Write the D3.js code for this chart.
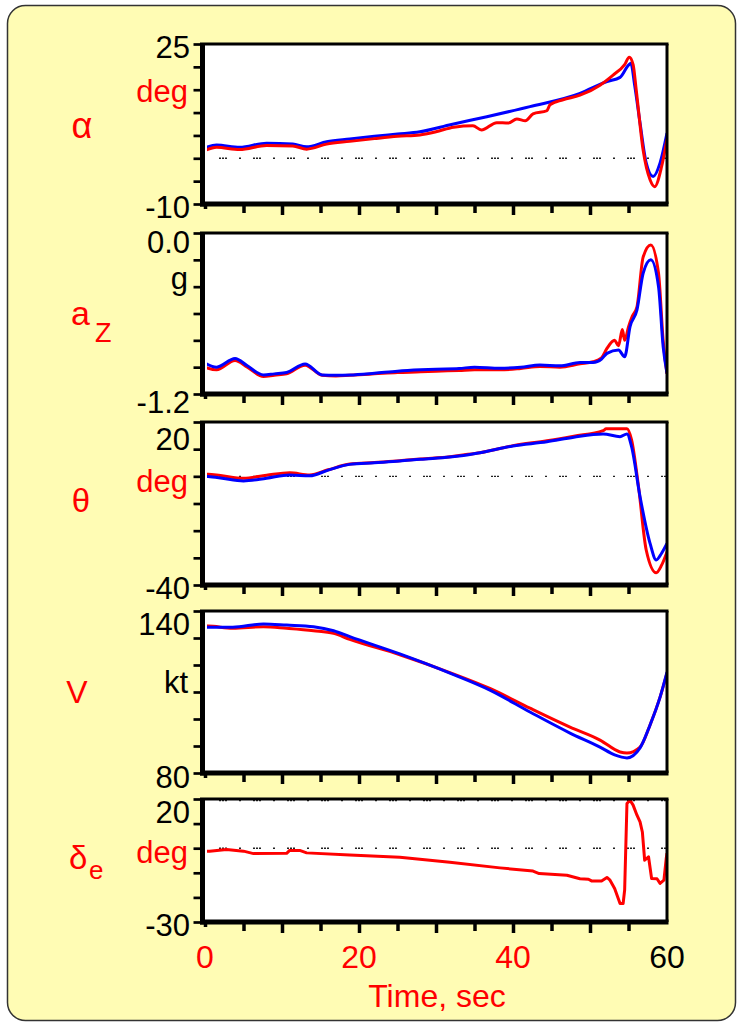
<!DOCTYPE html>
<html>
<head>
<meta charset="utf-8">
<script src="https://cdn.jsdelivr.net/npm/d3@7"></script>
<style>
  body { margin: 0; background: #ffffff; }
  svg { display: block; }
  text { font-family: "Liberation Sans", Arial, Helvetica, sans-serif; }
</style>
</head>
<body>
<svg id="chart" width="738" height="1023"></svg>
<script>
// ---- time-history data (t in seconds) ----
// angle of attack, deg
const alphaSimT = [0, 1.5, 4.5, 8, 11.4, 13.2, 15.8, 18.8, 22, 25, 27.9, 32, 36.6, 42.2, 48.7, 52.2, 53.9, 55, 55.3, 55.8, 56.5, 57.3, 58.2, 59.1, 60];
const alphaSim  = [2.3, 2.9, 2.4, 3.3, 3.1, 2.5, 3.6, 4.2, 4.8, 5.3, 5.8, 7.4, 9.1, 11.3, 14.2, 16.8, 17.7, 20.4, 20.8, 16.0, 7.7, -1.0, -4.0, -1.0, 5.5];
const alphaFltT = [0, 1.5, 4.5, 8, 11.4, 13.2, 15.8, 18.8, 22, 25, 27.9, 30, 32.3, 34.8, 35.9, 37.9, 39.4, 40.5, 41.6, 42.6, 44.4, 44.8, 46.5, 48.7, 51.3, 53, 54.5, 55.1, 55.6, 56, 56.9, 57.8, 58.4, 59.3, 60];
const alphaFlt  = [1.7, 2.4, 1.9, 2.8, 2.7, 2.0, 3.1, 3.7, 4.3, 4.8, 5.1, 5.8, 6.8, 7.1, 6.2, 7.8, 7.7, 8.6, 8.2, 9.7, 10.4, 11.7, 12.8, 13.8, 16.0, 18.2, 20.5, 22.1, 20.5, 15.0, 1.8, -4.7, -6.2, -1.8, 4.2];

// normal acceleration, g
const azSimT = [0, 1.5, 3.9, 5.5, 7.6, 9, 10.6, 13, 15.2, 17, 18.8, 22, 25, 28, 30, 33, 35, 38.3, 41, 43.5, 46.1, 48.7, 50.4, 51.5, 52.2, 53.7, 54.5, 55.2, 56.1, 56.9, 57.9, 58.9, 59.5, 60];
const azSim  = [-0.97, -1.0, -0.935, -0.99, -1.058, -1.05, -1.04, -0.976, -1.058, -1.06, -1.058, -1.045, -1.03, -1.02, -1.015, -1.01, -1.0, -1.008, -1.0, -0.984, -0.99, -0.966, -0.966, -0.94, -0.897, -0.872, -0.922, -0.698, -0.574, -0.30, -0.20, -0.40, -0.847, -1.045];
const azFltT = [0, 1.5, 3.9, 5.5, 7.6, 9, 10.6, 13, 15.2, 17, 18.8, 22, 25, 28, 30, 33, 35, 38.3, 41, 43.5, 46.1, 48.7, 50.4, 51.5, 52.2, 53.2, 53.7, 54.2, 54.5, 55, 55.5, 56.1, 56.9, 57.9, 58.9, 59.5, 60];
const azFlt  = [-1.0, -1.02, -0.95, -1.0, -1.07, -1.06, -1.05, -0.985, -1.06, -1.065, -1.06, -1.05, -1.04, -1.035, -1.03, -1.025, -1.02, -1.02, -1.01, -0.995, -1.0, -0.975, -0.96, -0.93, -0.86, -0.80, -0.84, -0.72, -0.80, -0.70, -0.62, -0.55, -0.18, -0.09, -0.30, -0.80, -1.05];

// pitch attitude, deg
const thetaSimT = [0, 0.4, 2, 5, 8, 11, 13.6, 16, 18.8, 22, 25.3, 28, 31.8, 33, 35.7, 40, 44.4, 47.9, 51.7, 53.9, 54.8, 55.4, 56.5, 57.8, 58.6, 59.3, 60];
const thetaSim  = [0, -0.1, -0.6, -1.7, -0.7, 0.5, 0.2, 2.3, 4.4, 5.0, 5.6, 6.3, 7.1, 7.5, 8.7, 11.2, 12.7, 14.4, 15.6, 14.6, 15.6, 10.9, -7.5, -24.7, -30.8, -28.3, -24.7];
const thetaFltT = [0, 0.4, 2, 5, 8, 11, 13.6, 16, 18.8, 22, 25.3, 28, 31.8, 33, 35.7, 40, 44.4, 47.9, 51.7, 52.1, 54.8, 55.4, 56.3, 57.3, 58.6, 59.3, 60];
const thetaFlt  = [0.8, 0.8, 0.3, -0.7, 0.4, 1.3, 0.5, 2.4, 4.5, 5.1, 5.7, 6.4, 7.2, 7.7, 8.7, 11.3, 13.1, 14.8, 16.8, 17.5, 17.5, 13.4, -3.8, -27.1, -35.5, -32.7, -27.8];

// airspeed, kt
const speedSimT = [0, 0.4, 3.6, 7.6, 10.6, 14.1, 16.7, 18.8, 25.3, 31.8, 37, 42.2, 47.4, 51.3, 53.2, 54.8, 56.5, 57.8, 59.1, 60];
const speedSim  = [134.0, 134.0, 134.0, 135.2, 134.8, 134.2, 132.7, 130.5, 124.1, 117.0, 110.7, 102.6, 94.8, 89.6, 86.7, 85.6, 89.3, 97.8, 108.1, 117.4];
const speedFltT = [0, 0.4, 3.6, 7.6, 10.6, 14.1, 16.7, 18.8, 25.3, 31.8, 37, 42.2, 47.4, 51.3, 53.9, 54.8, 56.5, 57.8, 59.1, 60];
const speedFlt  = [134.4, 134.4, 133.6, 134.2, 133.6, 132.7, 131.7, 129.5, 123.8, 117.2, 111.3, 104.0, 97.0, 92.2, 87.8, 87.4, 89.6, 97.8, 108.1, 117.0];

// elevator deflection, deg
const elevT = [0, 0.6, 2.8, 5, 6.3, 10.6, 11, 12.3, 13.2, 18.8, 25.3, 31.8, 38.3, 42.6, 43.4, 47, 48.7, 49.8, 50.2, 51.5, 52.2, 52.6, 53.2, 53.9, 54.3, 54.5, 54.8, 55.2, 55.6, 56.1, 56.5, 56.8, 57.1, 57.6, 58, 58.7, 59.1, 59.6, 59.9, 60];
const elev  = [-1.2, -1.2, -0.5, -1.2, -2.2, -2.1, -0.9, -0.9, -1.9, -2.8, -3.7, -5.7, -8.0, -9.3, -10.3, -11.0, -12.4, -12.6, -13.3, -13.3, -11.9, -13.0, -16.4, -22.5, -22.5, -17.0, 18.2, 19.5, 17.5, 13.4, 10.7, 6.6, -4.9, -3.5, -12.3, -12.4, -14.3, -13.0, -4.2, -2.0];

// axis text
const timeTicks = [0, 20, 40, 60];
const timeTickColors = ["#ff0000", "#ff0000", "#ff0000", "#000000"];
const timeTitle = "Time, sec";

const zip = (ts, vs) => ts.map((t, i) => [t, vs[i]]);

const panels = [
  { key: "alpha", top: 44, bottom: 204, domain: [-10, 25], step: 5,
    lo: "-10", hi: "25", hiBase: 58, loBase: 218,
    unit: "deg", unitColor: "#ff0000", unitBase: 102,
    zero: [0], curve: d3.curveMonotoneX,
    series: [{ d: zip(alphaSimT, alphaSim), c: "#0000ff" }, { d: zip(alphaFltT, alphaFlt), c: "#ff0000" }] },
  { key: "az", top: 233, bottom: 394, domain: [-1.2, 0], step: 0.2,
    lo: "-1.2", hi: "0.0", hiBase: 253, loBase: 413,
    unit: "g", unitColor: "#000000", unitBase: 289,
    zero: [], curve: d3.curveMonotoneX,
    series: [{ d: zip(azFltT, azFlt), c: "#ff0000" }, { d: zip(azSimT, azSim), c: "#0000ff" }] },
  { key: "theta", top: 422, bottom: 585, domain: [-40, 20], step: 10,
    lo: "-40", hi: "20", hiBase: 450, loBase: 599,
    unit: "deg", unitColor: "#ff0000", unitBase: 492,
    zero: [0], curve: d3.curveMonotoneX,
    series: [{ d: zip(thetaFltT, thetaFlt), c: "#ff0000" }, { d: zip(thetaSimT, thetaSim), c: "#0000ff" }] },
  { key: "speed", top: 611, bottom: 773, domain: [80, 140], step: 10,
    lo: "80", hi: "140", hiBase: 635, loBase: 788,
    unit: "kt", unitColor: "#000000", unitBase: 693,
    zero: [], curve: d3.curveMonotoneX,
    series: [{ d: zip(speedFltT, speedFlt), c: "#ff0000" }, { d: zip(speedSimT, speedSim), c: "#0000ff" }] },
  { key: "elev", top: 799, bottom: 922, domain: [-30, 20], step: 10,
    lo: "-30", hi: "20", hiBase: 823, loBase: 936,
    unit: "deg", unitColor: "#ff0000", unitBase: 863,
    zero: [0, 19.4], curve: d3.curveLinear,
    series: [{ d: zip(elevT, elev), c: "#ff0000" }] }
];

const svg = d3.select("#chart");

// outer rounded panel
svg.append("rect")
  .attr("x", 7.5).attr("y", 5.5).attr("width", 728).attr("height", 1015)
  .attr("rx", 18).attr("ry", 18)
  .attr("fill", "#fffcb4").attr("stroke", "#333").attr("stroke-width", 1.5);

const x = d3.scaleLinear().domain([0, 60]).range([205, 667]);

panels.forEach((p) => {
  const y = d3.scaleLinear().domain(p.domain).range([p.bottom, p.top]);
  const g = svg.append("g").attr("class", "panel-" + p.key);

  g.append("rect")
    .attr("x", x(0)).attr("y", p.top)
    .attr("width", x(60) - x(0)).attr("height", p.bottom - p.top)
    .attr("fill", "#ffffff");

  const clipId = "clip-" + p.key;
  svg.append("clipPath").attr("id", clipId)
    .append("rect")
    .attr("x", x(0) + 2).attr("y", p.top + 1)
    .attr("width", x(60) - x(0) - 3).attr("height", p.bottom - p.top - 3);

  const plot = g.append("g").attr("clip-path", `url(#${clipId})`);

  // dotted reference lines
  p.zero.forEach((v) => {
    plot.append("line")
      .attr("x1", x(0)).attr("x2", x(60))
      .attr("y1", y(v)).attr("y2", y(v))
      .attr("stroke", "#222").attr("stroke-width", 1.4)
      .attr("stroke-dasharray", "2,12,2,1,2,1,2,12");
  });

  const line = d3.line().x((d) => x(d[0])).y((d) => y(d[1])).curve(p.curve);
  p.series.forEach((s) => {
    plot.append("path")
      .datum(s.d)
      .attr("d", line)
      .attr("fill", "none")
      .attr("stroke", s.c)
      .attr("stroke-width", 3)
      .attr("stroke-linejoin", "round");
  });

  // frame: thin top/right, heavy left/bottom
  g.append("line").attr("x1", x(0)).attr("x2", x(60) + 1.5).attr("y1", p.top).attr("y2", p.top)
    .attr("stroke", "#000").attr("stroke-width", 3);
  g.append("line").attr("x1", x(60)).attr("x2", x(60)).attr("y1", p.top).attr("y2", p.bottom)
    .attr("stroke", "#000").attr("stroke-width", 3);

  // left ticks
  const ticks = d3.range(p.domain[0], p.domain[1] + p.step / 2, p.step);
  const yAxis = g.append("g")
    .attr("transform", `translate(${x(0) - 0.5},0)`)
    .call(d3.axisLeft(y).tickValues(ticks).tickSize(11).tickFormat(""));
  yAxis.select(".domain").remove();
  yAxis.selectAll(".tick line").attr("stroke", "#000").attr("stroke-width", 2.7);

  // bottom ticks: long every 10 s, short every 5 s
  const major = g.append("g").attr("transform", `translate(0,${p.bottom})`)
    .call(d3.axisBottom(x).tickValues([10, 20, 30, 40, 50]).tickSize(11).tickFormat(""));
  const minor = g.append("g").attr("transform", `translate(0,${p.bottom})`)
    .call(d3.axisBottom(x).tickValues([5, 15, 25, 35, 45, 55]).tickSize(9).tickFormat(""));
  const origin = g.append("g").attr("transform", `translate(0,${p.bottom})`)
    .call(d3.axisBottom(x).tickValues([0]).tickSize(5).tickFormat(""));
  [major, minor, origin].forEach((a) => {
    a.select(".domain").remove();
    a.selectAll(".tick line").attr("stroke", "#000").attr("stroke-width", 3.5);
  });

  g.append("line").attr("x1", x(0) - 2.5).attr("x2", x(0) - 2.5).attr("y1", p.top - 1.5).attr("y2", p.bottom + 2.5)
    .attr("stroke", "#000").attr("stroke-width", 5);
  g.append("line").attr("x1", x(0) - 5).attr("x2", x(60) + 1.5).attr("y1", p.bottom).attr("y2", p.bottom)
    .attr("stroke", "#000").attr("stroke-width", 5);

  // y-range labels and units
  g.append("text").attr("x", 190).attr("y", p.hiBase).attr("text-anchor", "end")
    .attr("font-size", 31).attr("fill", "#000").text(p.hi);
  g.append("text").attr("x", 190).attr("y", p.loBase).attr("text-anchor", "end")
    .attr("font-size", 31).attr("fill", "#000").text(p.lo);
  g.append("text").attr("x", 188).attr("y", p.unitBase).attr("text-anchor", "end")
    .attr("font-size", 31).attr("fill", p.unitColor).text(p.unit);
});

// quantity symbols on the left
const red = "#ff0000";
svg.append("text").attr("x", 82).attr("y", 138).attr("text-anchor", "middle")
  .attr("font-size", 36).attr("fill", red).text("α");
const az = svg.append("text").attr("x", 71).attr("y", 325).attr("font-size", 34).attr("fill", red);
az.append("tspan").text("a");
az.append("tspan").attr("x", 95).attr("y", 342).attr("font-size", 27).text("Z");
svg.append("text").attr("x", 81).attr("y", 512).attr("text-anchor", "middle")
  .attr("font-size", 33).attr("fill", red).text("θ");
svg.append("text").attr("x", 77).attr("y", 703).attr("text-anchor", "middle")
  .attr("font-size", 32).attr("fill", red).text("V");
const de = svg.append("text").attr("x", 69).attr("y", 869).attr("font-size", 33).attr("fill", red);
de.append("tspan").text("δ");
de.append("tspan").attr("x", 89).attr("y", 879).attr("font-size", 26).text("e");

// time axis labels
svg.selectAll("text.time-tick")
  .data(timeTicks)
  .enter().append("text")
  .attr("class", "time-tick")
  .attr("x", (d) => x(d)).attr("y", 968)
  .attr("text-anchor", "middle").attr("font-size", 32)
  .attr("fill", (d, i) => timeTickColors[i])
  .text((d) => d);

svg.append("text").attr("x", 437).attr("y", 1007).attr("text-anchor", "middle")
  .attr("font-size", 32).attr("fill", red).text(timeTitle);
</script>
</body>
</html>
